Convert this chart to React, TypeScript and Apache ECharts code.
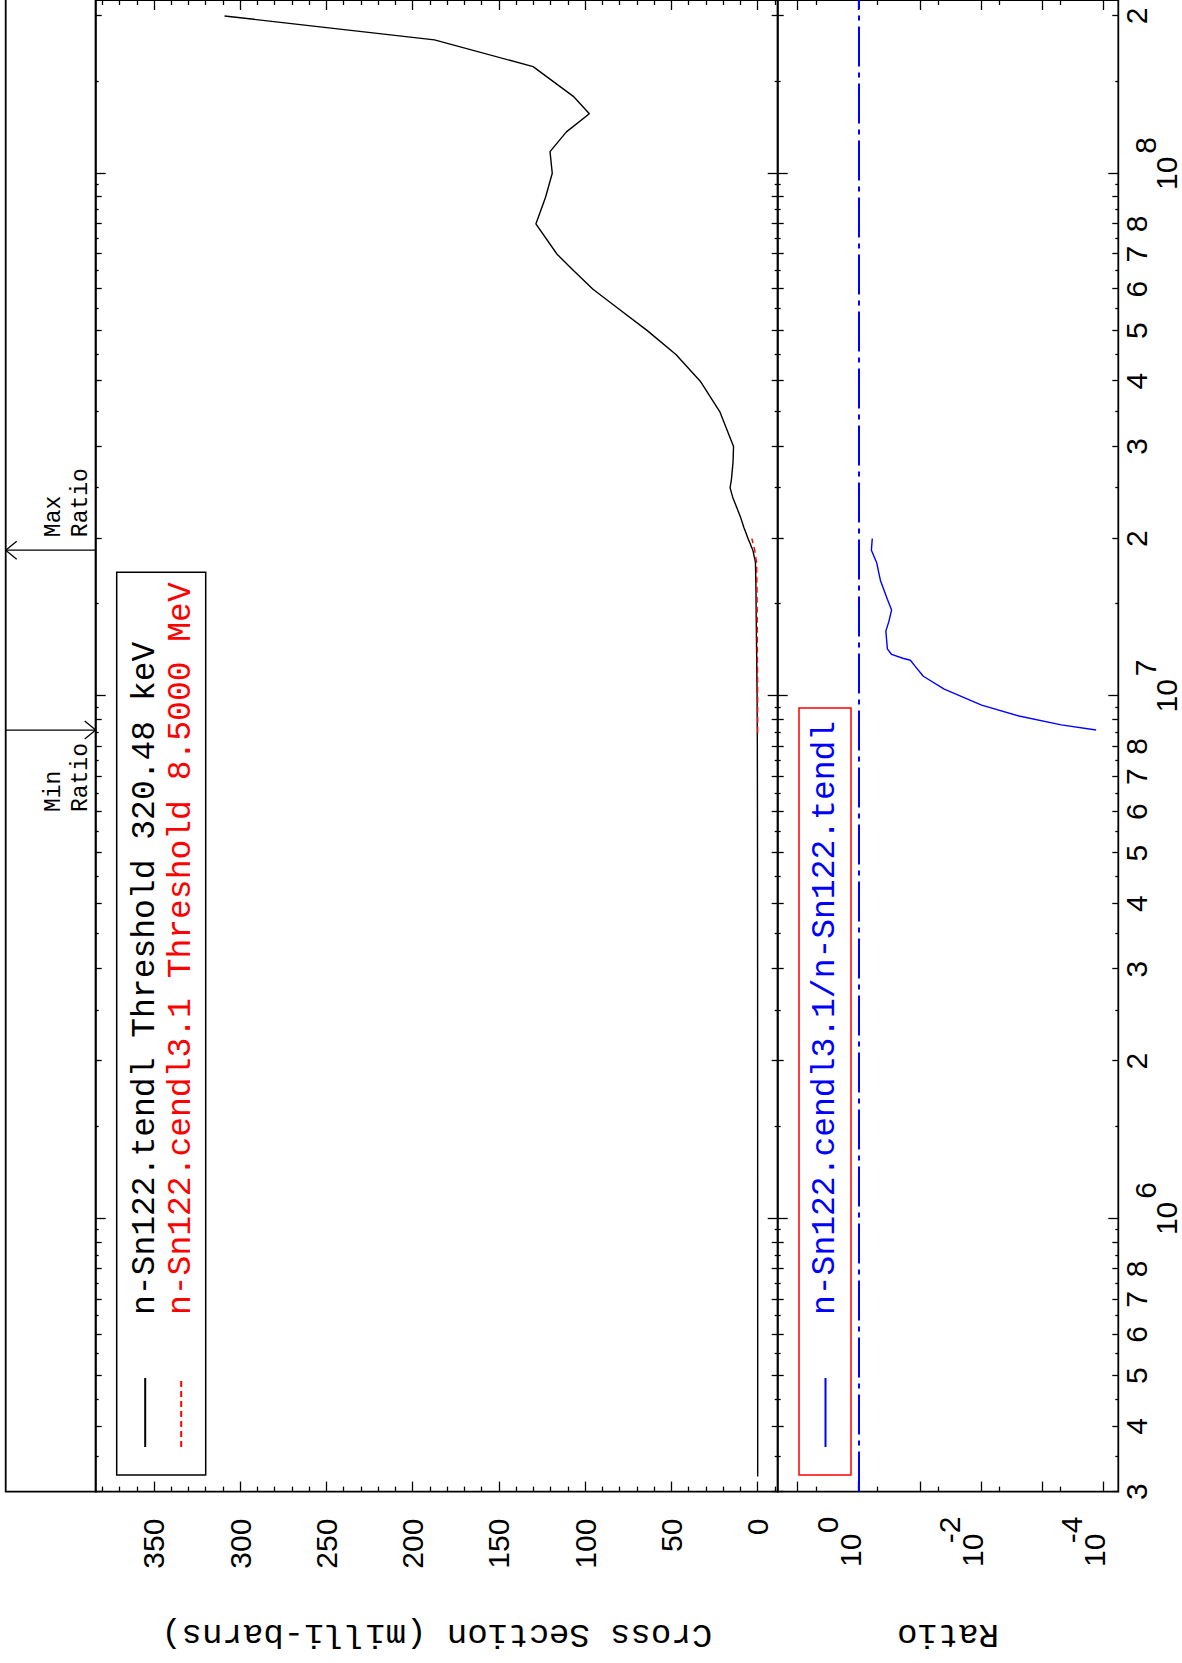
import React, { useEffect, useRef } from "react";
import * as echarts from "echarts";

// ---------------- data ----------------
const tendlName = "n-Sn122.tendl Threshold 320.48 keV";
const cendlName = "n-Sn122.cendl3.1 Threshold 8.5000 MeV";
const ratioName = "n-Sn122.cendl3.1/n-Sn122.tendl";
const xsAxisTitle = "Cross Section (milli-barns)";
const ratioAxisTitle = "Ratio";
const minRatioText = "Min\nRatio";
const maxRatioText = "Max\nRatio";

// energy (eV) / cross section (mb)
const tendlEnergy = [
  3.2048e5, 1e6, 3e6, 5e6, 8e6, 1e7, 1.2e7, 1.4e7, 1.6e7, 1.8e7, 1.9e7, 2e7, 2.1e7, 2.2e7,
  2.4e7, 2.5e7, 2.6e7, 2.8e7, 3e7, 3.5e7, 4e7, 4.5e7, 5e7, 5.5e7, 6e7, 6.5e7, 7e7, 8e7, 9e7,
  1e8, 1.1e8, 1.2e8, 1.3e8, 1.4e8, 1.6e8, 1.8e8, 2e8,
];
const tendlXs = [
  0, 0.01, 0.05, 0.1, 0.2, 0.35, 0.6, 0.85, 1.0, 1.3, 2.8, 5.6, 8.0, 10.0,
  14.5, 16.0, 15.2, 14.3, 14.0, 22.0, 33.3, 47.4, 64.0, 80.5, 95.5, 106.5, 116.3, 128.6, 123.0,
  119.1, 120.4, 110.9, 97.6, 106.5, 130.2, 187.4, 309.1,
];

const cendlEnergy = [8.5e6, 9e6, 1e7, 1.1e7, 1.2e7, 1.4e7, 1.6e7, 1.8e7, 1.9e7, 2e7];
const cendlXs = [0, 0.002, 0.015, 0.06, 0.17, 0.27, 0.4, 0.66, 1.7, 3.4];

const ratioEnergy = [
  8.6e6, 8.8e6, 9.15e6, 9.6e6, 1.03e7, 1.09e7, 1.14e7, 1.17e7, 1.18e7, 1.2e7, 1.23e7,
  1.33e7, 1.39e7, 1.46e7, 1.53e7, 1.66e7, 1.8e7, 1.9e7, 2.0e7,
];
const ratioValues = [
  1.32e-4, 4.9e-4, 2.4e-3, 9.8e-3, 0.04, 0.088, 0.12, 0.143, 0.19, 0.29, 0.34,
  0.36, 0.32, 0.29, 0.34, 0.44, 0.51, 0.62, 0.6,
];
const ratioReference = 1;

// axis ranges
const energyMin = 3e5;
const energyMax = 2.146e8;
const xsMin = -11.6;
const xsMax = 383.8;
const ratioMin = 5.73e-5;
const ratioMax = 21.06;

// tick definitions
const energyExponents = [5, 6, 7, 8];
const energyIntMantissas = [2, 3, 4, 5, 6, 7, 8, 9];
const energyHalfMantissas = [1.5, 2.5, 3.5, 4.5, 5.5, 6.5, 7.5, 8.5, 9.5];
const energyLabelMantissas = [1, 2, 3, 4, 5, 6, 7, 8];
const xsMajorTicks = [0, 50, 100, 150, 200, 250, 300, 350];
const xsMinorTicks = [
  -10, 10, 20, 30, 40, 60, 70, 80, 90, 110, 120, 130, 140, 160, 170, 180, 190, 210, 220, 230,
  240, 260, 270, 280, 290, 310, 320, 330, 340, 360, 370, 380,
];
const ratioDecadeTicks = [1e-4, 1e-3, 1e-2, 1e-1, 1, 10];
const ratioHalfTicks = [5e-4, 5e-3, 5e-2, 5e-1, 5];
const ratioLabelTicks = [1e-4, 1e-2, 1];

// ---------------- layout ----------------
const W = 1663;
const H = 1182;
const GRID_LEFT = 171.4;
const ANNOT_TOP = 5.7;
const TOP0 = 95.7;
const BOTTOM0 = 777.7;
const BOTTOM1 = 1118.3;

const MONO = '"Liberation Mono", "DejaVu Sans Mono", monospace';
const SANS = '"Liberation Sans", Arial, sans-serif';

const inRange = (v: number) => v >= energyMin * 0.999999 && v <= energyMax;
const buildEnergy = (mants: number[]) =>
  energyExponents.flatMap((e) => mants.map((m) => +(m * Math.pow(10, e)).toPrecision(6))).filter(inRange);

const energyDecadeTicks = buildEnergy([1]);
const energyIntTicks = buildEnergy(energyIntMantissas);
const energyHalfTicks = buildEnergy(energyHalfMantissas);
const energyLabelTicks = buildEnergy(energyLabelMantissas);

const tickLine = { color: "#000", width: 1.3 };

function energyAxis(gridIndex: number, position: string, ticks: number[], len: number, withLabels = false): any {
  return {
    type: "log",
    logBase: 10,
    gridIndex,
    position,
    min: energyMin,
    max: energyMax,
    axisLine: { show: false, onZero: false },
    splitLine: { show: false },
    minorTick: { show: false },
    axisTick: { show: true, inside: true, length: len, customValues: ticks, lineStyle: tickLine },
    axisLabel: withLabels
      ? {
          show: true,
          margin: 6.7,
          customValues: energyLabelTicks,
          color: "#000",
          fontFamily: SANS,
          fontSize: 30,
          formatter: (v: number) => {
            const ex = Math.floor(Math.log10(v) + 1e-9);
            const m = Math.round(v / Math.pow(10, ex));
            if (m === 1) return `{e|${ex}}\n{b|10}`;
            return `{d|${m}}`;
          },
          rich: {
            d: { fontFamily: SANS, fontSize: 30, lineHeight: 22, align: "center", color: "#000" },
            e: { fontFamily: SANS, fontSize: 30, lineHeight: 40, align: "center", padding: [0, 0, 0, 56], color: "#000" },
            b: { fontFamily: SANS, fontSize: 30, lineHeight: 2, align: "center", color: "#000" },
          },
        }
      : { show: false },
  };
}

function xsAxis(position: string, ticks: number[], len: number, withLabels = false): any {
  return {
    type: "value",
    gridIndex: 0,
    position,
    min: xsMin,
    max: xsMax,
    axisLine: { show: false, onZero: false },
    splitLine: { show: false },
    axisTick: { show: true, inside: true, length: len, customValues: ticks, lineStyle: tickLine },
    axisLabel: withLabels
      ? {
          show: true,
          customValues: xsMajorTicks,
          margin: 27,
          color: "#000",
          fontFamily: SANS,
          fontSize: 30,
          lineHeight: 30,
          padding: [0, 0, 18, 0],
        }
      : { show: false },
    name: withLabels ? xsAxisTitle : "",
    nameLocation: "middle",
    nameGap: 125,
    nameTextStyle: { fontFamily: MONO, fontSize: 34, color: "#000" },
  };
}

function ratioAxis(position: string, ticks: number[], len: number, withLabels = false): any {
  return {
    type: "log",
    logBase: 10,
    gridIndex: 1,
    position,
    min: ratioMin,
    max: ratioMax,
    axisLine: { show: false, onZero: false },
    splitLine: { show: false },
    minorTick: { show: false },
    axisTick: { show: true, inside: true, length: len, customValues: ticks, lineStyle: tickLine },
    axisLabel: withLabels
      ? {
          show: true,
          customValues: ratioLabelTicks,
          margin: 25,
          color: "#000",
          fontFamily: SANS,
          fontSize: 30,
          padding: [0, 0, 40, 0],
          formatter: (v: number) => `{e|${Math.round(Math.log10(v))}}\n{b|10}`,
          rich: {
            e: { fontFamily: SANS, fontSize: 30, lineHeight: 23, align: "right", color: "#000" },
            b: { fontFamily: SANS, fontSize: 30, lineHeight: 23, align: "right", padding: [0, 17, 0, 0], color: "#000" },
          },
        }
      : { show: false },
    name: withLabels ? ratioAxisTitle : "",
    nameLocation: "middle",
    nameGap: 125,
    nameTextStyle: { fontFamily: MONO, fontSize: 34, color: "#000" },
  };
}

const pairs = (xs: number[], ys: number[]) => xs.map((x, i) => [x, ys[i]]);

const legendBase: any = {
  orient: "vertical",
  left: 188,
  itemWidth: 69,
  itemHeight: 30,
  itemGap: 3,
  selectedMode: false,
  borderWidth: 1.5,
  itemStyle: { color: "rgba(0,0,0,0)", borderWidth: 0, opacity: 0 },
  textStyle: { fontFamily: MONO, fontSize: 33, lineHeight: 30, padding: [0, 0, 0, 58], color: "#000" },
};

function buildOption(): any {
  const xAxes: any[] = [];
  for (const g of [0, 1]) {
    for (const pos of ["bottom", "top"]) {
      xAxes.push(energyAxis(g, pos, energyDecadeTicks, 10, g === 1 && pos === "bottom"));
      xAxes.push(energyAxis(g, pos, energyIntTicks, 6));
      xAxes.push(energyAxis(g, pos, energyHalfTicks, 3));
    }
  }
  const yAxes: any[] = [
    xsAxis("left", xsMajorTicks, 10, true),
    xsAxis("left", xsMinorTicks, 5),
    xsAxis("right", xsMajorTicks, 10),
    xsAxis("right", xsMinorTicks, 5),
    ratioAxis("left", ratioDecadeTicks, 10, true),
    ratioAxis("left", ratioHalfTicks, 5),
    ratioAxis("right", ratioDecadeTicks, 10),
    ratioAxis("right", ratioHalfTicks, 5),
  ];
  return {
    animation: false,
    backgroundColor: "#fff",
    grid: [
      { left: GRID_LEFT, top: TOP0, right: 0, height: BOTTOM0 - TOP0, show: true, borderColor: "#000", borderWidth: 1.8, containLabel: false },
      { left: GRID_LEFT, top: BOTTOM0, right: 0, height: BOTTOM1 - BOTTOM0, show: true, borderColor: "#000", borderWidth: 1.8, containLabel: false },
    ],
    xAxis: xAxes,
    yAxis: yAxes,
    legend: [
      {
        ...legendBase,
        top: 116.7,
        padding: [12, 10, 8, 27],
        borderColor: "#000",
        data: [
          { name: tendlName, textStyle: { color: "#000" } },
          { name: cendlName, textStyle: { color: "#ff0000" } },
        ],
      },
      {
        ...legendBase,
        top: 799,
        padding: [10, 13, 9, 27],
        borderColor: "#ff0000",
        data: [{ name: ratioName, textStyle: { color: "#0000ff" } }],
      },
    ],
    series: [
      {
        name: tendlName,
        type: "line",
        xAxisIndex: 0,
        yAxisIndex: 0,
        symbol: "none",
        color: "#000",
        lineStyle: { color: "#000", width: 1.4 },
        data: pairs(tendlEnergy, tendlXs),
      },
      {
        name: cendlName,
        type: "line",
        xAxisIndex: 0,
        yAxisIndex: 0,
        symbol: "none",
        color: "#ff0000",
        lineStyle: { color: "#ff0000", width: 1.4, type: [6, 4] },
        data: pairs(cendlEnergy, cendlXs),
      },
      {
        name: ratioName,
        type: "line",
        xAxisIndex: 6,
        yAxisIndex: 4,
        symbol: "none",
        color: "#0000ff",
        lineStyle: { color: "#0000ff", width: 1.4 },
        data: pairs(ratioEnergy, ratioValues),
        markLine: {
          silent: true,
          symbol: "none",
          label: { show: false },
          lineStyle: { color: "#0000ff", width: 2, type: [40, 6, 5, 6] },
          data: [{ yAxis: ratioReference }],
        },
      },
    ],
  };
}

export default function App() {
  const ref = useRef<HTMLDivElement>(null);
  useEffect(() => {
    if (!ref.current) return;
    const chart = echarts.init(ref.current, null, { renderer: "svg" });
    chart.setOption(buildOption());

    const minIdx = ratioValues.indexOf(Math.min(...ratioValues));
    const maxIdx = ratioValues.indexOf(Math.max(...ratioValues));
    const xMin = chart.convertToPixel({ xAxisIndex: 6 } as any, ratioEnergy[minIdx]) as unknown as number;
    const xMax = chart.convertToPixel({ xAxisIndex: 6 } as any, ratioEnergy[maxIdx]) as unknown as number;
    const stroke = { stroke: "#000", lineWidth: 1.3, fill: null as any };
    const textFont = { fontFamily: MONO, fontSize: 23, lineHeight: 27, fill: "#000", verticalAlign: "top" };

    chart.setOption({
      graphic: [
        {
          type: "rect",
          shape: { x: GRID_LEFT, y: ANNOT_TOP, width: W - GRID_LEFT + 3, height: TOP0 - ANNOT_TOP },
          style: { stroke: "#000", lineWidth: 1.8, fill: null },
        },
        { type: "line", shape: { x1: xMax, y1: ANNOT_TOP, x2: xMax, y2: TOP0 }, style: stroke },
        {
          type: "polyline",
          shape: { points: [[xMax - 9, ANNOT_TOP + 11], [xMax, ANNOT_TOP], [xMax + 9, ANNOT_TOP + 11]] },
          style: stroke,
        },
        { type: "text", x: xMax + 13, y: 40.5, style: { ...textFont, text: maxRatioText, align: "left" } },
        { type: "line", shape: { x1: xMin, y1: ANNOT_TOP, x2: xMin, y2: TOP0 }, style: stroke },
        {
          type: "polyline",
          shape: { points: [[xMin - 9, TOP0 - 11], [xMin, TOP0], [xMin + 9, TOP0 - 11]] },
          style: stroke,
        },
        { type: "text", x: xMin - 82, y: 40.5, style: { ...textFont, text: minRatioText, align: "left" } },
      ],
    });
    return () => chart.dispose();
  }, []);

  return (
    <div
      style={{
        position: "absolute",
        left: 0,
        top: 0,
        width: 1182,
        height: 1663,
        overflow: "hidden",
        background: "#fff",
      }}
    >
      <div
        ref={ref}
        style={{
          position: "absolute",
          left: 0,
          top: 0,
          width: W,
          height: H,
          transformOrigin: "0 0",
          transform: "translateY(1663px) rotate(-90deg)",
        }}
      />
    </div>
  );
}
